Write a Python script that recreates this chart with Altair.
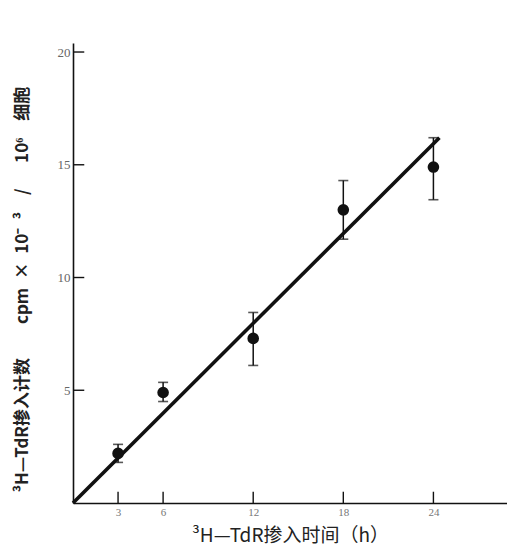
import altair as alt
import pandas as pd

# data
times = [3, 6, 12, 18, 24]
counts = [2.2, 4.9, 7.3, 13.0, 14.9]
err_low = [1.8, 4.5, 6.1, 11.7, 13.45]
err_high = [2.6, 5.35, 8.45, 14.3, 16.2]
fit_x = [0, 24.4]
fit_y = [0, 16.2]
x_ticks = [3, 6, 12, 18, 24]
y_ticks = [5, 10, 15, 20]

pts = pd.DataFrame({"x": times, "y": counts, "lo": err_low, "hi": err_high})
fit = pd.DataFrame({"x": fit_x, "y": fit_y})
xt = pd.DataFrame({"x": x_ticks, "y": [0] * len(x_ticks), "y2": [0.5] * len(x_ticks)})
yt = pd.DataFrame({"y": y_ticks, "x": [0] * len(y_ticks), "x2": [0.75] * len(y_ticks)})

xs = alt.Scale(domain=[0, 28.9], nice=False, zero=False)
ys = alt.Scale(domain=[0, 20.4], nice=False, zero=False)

ideo = "\u3000"
en = "\u2002"
ytitle = ("³H—TdR掺入计数" + ideo * 2 + "cpm" + en + "×" + en + "10\u207b" + en + "³"
          + ideo + "/" + ideo + en + "10\u2076" + ideo + "细胞")
xtitle = "³H—TdR掺入时间（h）"

x_axis = alt.Axis(values=x_ticks, ticks=False, grid=False, title=xtitle,
                  labelFont="Liberation Serif", labelFontSize=11, labelColor="#777777",
                  labelPadding=3, domainColor="#111111", domainWidth=1.6,
                  titleFont="Noto Sans CJK SC", titleFontSize=19, titleFontWeight="normal",
                  titleColor="#222222", titleY=32, titleBaseline="middle")
y_axis = alt.Axis(values=y_ticks, ticks=False, grid=False, title=ytitle,
                  labelFont="Liberation Serif", labelFontSize=13, labelColor="#666666",
                  labelPadding=3, domainColor="#111111", domainWidth=1.6,
                  titleFont="Noto Sans CJK SC", titleFontSize=17, titleFontWeight="bold",
                  titleColor="#222222", titleX=-51, titleY=246, titleAngle=-90,
                  titleAlign="center", titleBaseline="middle")


def X(f):
    return alt.X(f, scale=xs, axis=x_axis, title=xtitle)


def Y(f):
    return alt.Y(f, scale=ys, axis=y_axis, title=ytitle)


line = alt.Chart(fit).mark_line(color="#111111", strokeWidth=3.6).encode(
    x=X("x:Q"), y=Y("y:Q"),
)
rules = alt.Chart(pts).mark_rule(color="#111111", strokeWidth=1.5).encode(
    x=X("x:Q"), y=Y("lo:Q"), y2="hi:Q",
)
cap_lo = alt.Chart(pts).mark_tick(color="#111111", orient="horizontal", size=10, thickness=1.6).encode(
    x=X("x:Q"), y=Y("lo:Q"),
)
cap_hi = alt.Chart(pts).mark_tick(color="#111111", orient="horizontal", size=10, thickness=1.6).encode(
    x=X("x:Q"), y=Y("hi:Q"),
)
dots = alt.Chart(pts).mark_circle(color="#111111", size=135, opacity=1).encode(
    x=X("x:Q"), y=Y("y:Q"),
)
xtick = alt.Chart(xt).mark_rule(color="#111111", strokeWidth=1.4).encode(
    x=X("x:Q"), y=Y("y:Q"), y2="y2:Q",
)
ytick = alt.Chart(yt).mark_rule(color="#111111", strokeWidth=1.4).encode(
    y=Y("y:Q"), x=X("x:Q"), x2="x2:Q",
)

chart = alt.layer(line, rules, cap_lo, cap_hi, dots, xtick, ytick).properties(
    width=434,
    height=460,
    autosize=alt.AutoSizeParams(type="none"),
    padding={"left": 65, "top": 35, "right": 0, "bottom": 50},
    background="white",
).configure_view(stroke=None)

chart.save("out.html", embed_options={"renderer": "svg", "actions": False})
